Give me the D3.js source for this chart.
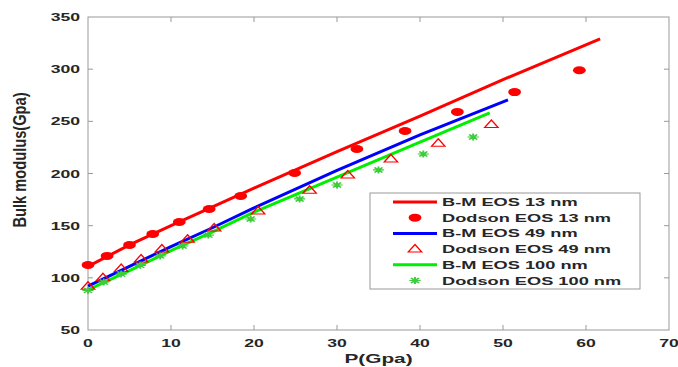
<!DOCTYPE html>
<html>
<head>
<meta charset="utf-8">
<script src="https://cdn.jsdelivr.net/npm/d3@7"></script>
<style>
  body { margin: 0; background: #fff; }
  text { font-family: "Liberation Sans", Arial, sans-serif; font-weight: bold; fill: #262626; }
</style>
</head>
<body>
<script>
// B-M EOS curves (P in GPa, bulk modulus in GPa)
const bm13P = [0, 5, 10, 15, 20, 30, 40, 50, 61.7];
const bm13B = [111, 131.5, 150, 168, 186, 221, 255, 290, 329];
const bm49P = [0, 5, 10, 15, 20, 30, 40, 50.6];
const bm49B = [92, 111, 130, 148, 167, 203, 237, 270.5];
const bm100P = [0, 5, 10, 15, 20, 30, 40, 48.4];
const bm100B = [88.5, 107, 126, 144, 163, 196.5, 230, 258];

// Dodson EOS points
const dd13P = [0, 2.3, 5, 7.8, 11, 14.6, 18.4, 24.9, 32.4, 38.2, 44.5, 51.4, 59.2];
const dd13B = [112.3, 121, 131.5, 142, 153.5, 166, 178.4, 200.5, 223.5, 240.7, 259, 278, 299];
const dd49P = [0, 1.8, 4, 6.4, 8.9, 12, 15.2, 20.5, 26.7, 31.3, 36.5, 42.2, 48.6];
const dd49B = [92, 100, 109, 118, 127.6, 137, 147.8, 164, 184, 198.6, 214, 229, 247];
const dd100P = [0, 1.9, 4, 6.3, 8.7, 11.4, 14.5, 19.6, 25.5, 30, 35, 40.4, 46.4];
const dd100B = [88, 96, 103.6, 112, 121, 130.5, 141, 156.4, 175.6, 189, 203.4, 218.7, 235];

const xTicks = [0, 10, 20, 30, 40, 50, 60, 70];
const yTicks = [50, 100, 150, 200, 250, 300, 350];
const legendLabels = ["B-M EOS 13 nm", "Dodson EOS 13 nm", "B-M EOS 49 nm",
  "Dodson EOS 49 nm", "B-M EOS 100 nm", "Dodson EOS 100 nm"];

const width = 678, height = 367;
const SX = 1.6; // the picture is stretched horizontally
const red = "#ff0000", blue = "#0000ff", green = "#00ee00", starGreen = "#3ccc3c";

const x = d3.scaleLinear().domain([0, 70]).range([88, 669]);
const y = d3.scaleLinear().domain([50, 350]).range([330, 17]);

const svg = d3.select("body").append("svg")
    .attr("width", width)
    .attr("height", height);

function stext(g, tx, ty, str, size, anchor, rot) {
  return g.append("text")
      .attr("transform", `translate(${tx},${ty}) scale(${SX},1)` + (rot ? ` rotate(${rot})` : ""))
      .attr("font-size", size)
      .attr("text-anchor", anchor)
      .text(str);
}

// axes box
const axis = svg.append("g").attr("stroke", "#999").attr("fill", "none");
axis.append("rect")
    .attr("x", x(0)).attr("y", y(350))
    .attr("width", x(70) - x(0)).attr("height", y(50) - y(350));
xTicks.slice(1, -1).forEach(t => {
  axis.append("line").attr("x1", x(t)).attr("x2", x(t)).attr("y1", y(50)).attr("y2", y(50) - 5);
  axis.append("line").attr("x1", x(t)).attr("x2", x(t)).attr("y1", y(350)).attr("y2", y(350) + 5);
});
yTicks.slice(1, -1).forEach(t => {
  axis.append("line").attr("y1", y(t)).attr("y2", y(t)).attr("x1", x(0)).attr("x2", x(0) + 5);
  axis.append("line").attr("y1", y(t)).attr("y2", y(t)).attr("x1", x(70)).attr("x2", x(70) - 5);
});

const labels = svg.append("g");
xTicks.forEach(t => stext(labels, x(t), 347, t, 11, "middle"));
yTicks.forEach(t => stext(labels, 80, y(t) + 4, t, 11, "end"));
stext(labels, (x(0) + x(70)) / 2, 363, "P(Gpa)", 13, "middle");
labels.append("text")
    .attr("transform", `translate(26,160) scale(${SX},1) rotate(-90)`)
    .attr("font-size", 11.5)
    .attr("text-anchor", "middle")
    .attr("textLength", 135)
    .attr("lengthAdjust", "spacingAndGlyphs")
    .text("Bulk modulus(Gpa)");

// marker shapes
function marker(g, kind, cx, cy) {
  const t = `translate(${cx},${cy}) scale(${SX},1)`;
  if (kind === "dot") {
    g.append("circle").attr("transform", t).attr("r", 4).attr("fill", red);
  } else if (kind === "tri") {
    g.append("path").attr("transform", t)
        .attr("d", "M0,-4.5L4.2,3L-4.2,3Z")
        .attr("fill", "none").attr("stroke", red).attr("stroke-width", 1);
  } else {
    g.append("path").attr("transform", t)
        .attr("d", "M-3.5,0H3.5M0,-3.5V3.5M-2.5,-2.5L2.5,2.5M-2.5,2.5L2.5,-2.5")
        .attr("stroke", starGreen).attr("stroke-width", 1.2);
  }
}

const plot = svg.append("g");
const line = d3.line().x(d => x(d[0])).y(d => y(d[1]));
const curves = [[bm13P, bm13B, red], [bm49P, bm49B, blue], [bm100P, bm100B, green]];
curves.forEach(([P, B, c]) => {
  plot.append("path")
      .datum(d3.zip(P, B))
      .attr("d", line)
      .attr("fill", "none")
      .attr("stroke", c)
      .attr("stroke-width", 3);
});
[[dd13P, dd13B, "dot"], [dd49P, dd49B, "tri"], [dd100P, dd100B, "star"]].forEach(([P, B, k]) => {
  P.forEach((p, i) => marker(plot, k, x(p), y(B[i])));
});

// legend
const leg = svg.append("g");
leg.append("rect")
    .attr("x", 370).attr("y", 193).attr("width", 270).attr("height", 96)
    .attr("fill", "#fff").attr("stroke", "#999");
const kinds = [["line", red], ["dot"], ["line", blue], ["tri"], ["line", green], ["star"]];
legendLabels.forEach((lab, i) => {
  const ly = 202 + i * 15.7;
  const k = kinds[i];
  if (k[0] === "line") {
    leg.append("line").attr("x1", 393).attr("x2", 437).attr("y1", ly).attr("y2", ly)
        .attr("stroke", k[1]).attr("stroke-width", 3);
  } else {
    marker(leg, k[0], 415, ly);
  }
  stext(leg, 442, ly + 4, lab, 11.4, "start");
});
</script>
</body>
</html>
